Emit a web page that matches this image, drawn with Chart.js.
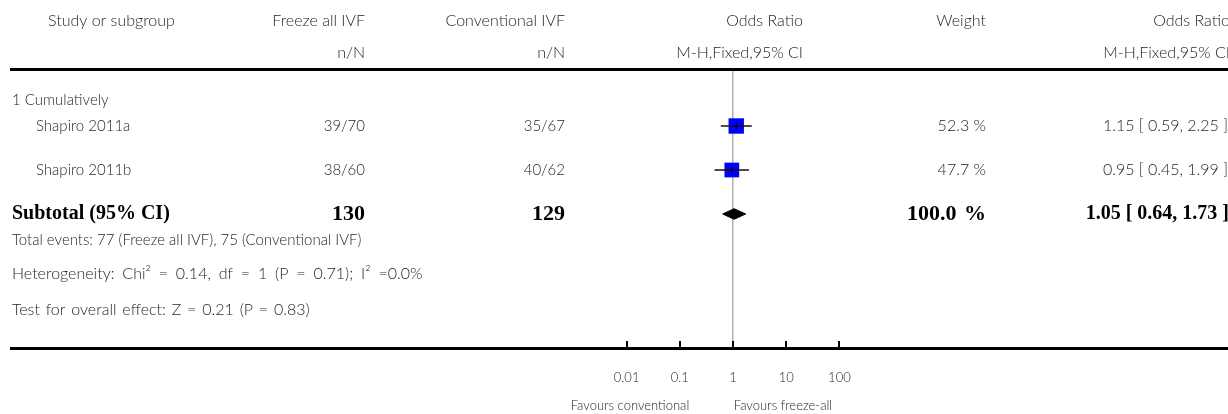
<!DOCTYPE html>
<html>
<head>
<meta charset="utf-8">
<script src="https://cdn.jsdelivr.net/npm/chart.js@4"></script>
<style>
  body { margin: 0; background: #fff; }
  canvas { display: block; }
</style>
</head>
<body>
<canvas id="forest" width="1228" height="414"></canvas>
<script>
// study level data
const studies = ['Shapiro 2011a', 'Shapiro 2011b'];
const freezeEvents = [39, 38];
const freezeTotal = [70, 60];
const convEvents = [35, 40];
const convTotal = [67, 62];
const oddsRatio = [1.15, 0.95];
const ciLow = [0.59, 0.45];
const ciHigh = [2.25, 1.99];
const weights = [52.3, 47.7];

// pooled result
const subtotalOR = 1.05;
const subtotalLow = 0.64;
const subtotalHigh = 1.73;
const subtotalWeight = 100.0;

const tickValues = [0.01, 0.1, 1, 10, 100];
const tickLabels = ['0.01', '0.1', '1', '10', '100'];

const footnotes = [
    'Total events: 77 (Freeze all IVF), 75 (Conventional IVF)',
    'Heterogeneity: Chi\u00b2 = 0.14, df = 1 (P = 0.71); I\u00b2 =0.0%',
    'Test for overall effect: Z = 0.21 (P = 0.83)'
];

const SANS = 'Lato, "Open Sans", sans-serif';
const SERIF = '"Liberation Serif", "DejaVu Serif", serif';
const GREY = '#1f1f1f';

function fmtCI(or, lo, hi) {
    return `${or.toFixed(2)} [ ${lo.toFixed(2)}, ${hi.toFixed(2)} ]`;
}

function text(ctx, str, x, y, align, font, color, wordSp) {
    ctx.font = font;
    ctx.fillStyle = color || GREY;
    ctx.textAlign = align;
    ctx.textBaseline = 'middle';
    ctx.wordSpacing = wordSp || '0px';
    ctx.fillText(str, x, y);
    ctx.wordSpacing = '0px';
}

const tablePlugin = {
    id: 'forestTable',
    afterDraw(chart) {
        const ctx = chart.ctx;
        const xs = chart.scales.x;
        const ys = chart.scales.y;
        const f = '300 16px ' + SANS;
        const fs = '300 15px ' + SANS;
        const b = 'bold 20px ' + SERIF;
        const bn = 'bold 22px ' + SERIF;
        ctx.save();

        // horizontal rules
        ctx.fillStyle = '#000';
        ctx.fillRect(10, 68, 1218, 3);
        ctx.fillRect(10, 347, 1218, 3);
        tickValues.forEach(v => {
            const px = Math.round(xs.getPixelForValue(v));
            ctx.fillRect(px - 1, 341, 2, 7);
        });

        // header
        text(ctx, 'Study or subgroup', 48, 21, 'left', f);
        text(ctx, 'Freeze all IVF', 365, 21, 'right', f);
        text(ctx, 'n/N', 365, 53, 'right', f);
        text(ctx, 'Conventional IVF', 565, 21, 'right', f);
        text(ctx, 'n/N', 565, 53, 'right', f);
        text(ctx, 'Odds Ratio', 803, 21, 'right', f);
        text(ctx, 'M-H,Fixed,95% CI', 803, 53, 'right', f);
        text(ctx, 'Weight', 986, 21, 'right', f);
        text(ctx, 'Odds Ratio', 1230, 21, 'right', f);
        text(ctx, 'M-H,Fixed,95% CI', 1230, 53, 'right', f);

        text(ctx, '1 Cumulatively', 12, 100, 'left', fs);

        studies.forEach((s, i) => {
            const py = ys.getPixelForValue(i + 1);
            text(ctx, s, 36, py, 'left', fs);
            text(ctx, `${freezeEvents[i]}/${freezeTotal[i]}`, 365, py, 'right', fs);
            text(ctx, `${convEvents[i]}/${convTotal[i]}`, 565, py, 'right', fs);
            text(ctx, `${weights[i].toFixed(1)} %`, 986, py, 'right', f);
            text(ctx, fmtCI(oddsRatio[i], ciLow[i], ciHigh[i]), 1228, py, 'right', f);
        });

        const sy = ys.getPixelForValue(studies.length + 1);
        const sumF = freezeTotal.reduce((a, c) => a + c, 0);
        const sumC = convTotal.reduce((a, c) => a + c, 0);
        text(ctx, 'Subtotal (95% CI)', 12, sy, 'left', b, '#000');
        text(ctx, String(sumF), 365, sy, 'right', bn, '#000');
        text(ctx, String(sumC), 565, sy, 'right', bn, '#000');
        text(ctx, `${subtotalWeight.toFixed(1)} %`, 986, sy, 'right', bn, '#000', '2px');
        text(ctx, fmtCI(subtotalOR, subtotalLow, subtotalHigh), 1229, sy, 'right', b, '#000');

        text(ctx, footnotes[0], 12, 240, 'left', fs);
        text(ctx, footnotes[1], 12, 274, 'left', f, GREY, '3.5px');
        text(ctx, footnotes[2], 12, 310, 'left', f, GREY, '1.5px');

        // axis captions
        text(ctx, 'Favours conventional', 630, 406, 'center', '300 13px ' + SANS);
        text(ctx, 'Favours freeze-all', 783, 406, 'center', '300 13px ' + SANS);

        ctx.restore();
    }
};

const ciSets = studies.map((s, i) => ({
    label: s,
    data: [{ x: ciLow[i], y: i + 1 }, { x: ciHigh[i], y: i + 1 }],
    showLine: true,
    borderColor: '#111',
    borderWidth: 1.5,
    pointRadius: 0,
    order: 1
}));

const sy = studies.length + 1;
const dh = 0.12; // half height of the diamond in row units

new Chart(document.getElementById('forest'), {
    type: 'scatter',
    data: {
        datasets: [
            ...ciSets,
            {
                label: 'estimate',
                data: oddsRatio.map((v, i) => ({ x: v, y: i + 1 })),
                pointStyle: 'rect',
                pointRadius: weights.map(w => 2.13 * Math.sqrt(w) / Math.SQRT2),
                pointBackgroundColor: '#0000ff',
                pointBorderWidth: 0,
                order: 2
            },
            {
                label: 'mark',
                data: oddsRatio.map((v, i) => ({ x: v, y: i + 1 })),
                pointStyle: 'line',
                rotation: 90,
                pointRadius: 3,
                pointBorderColor: '#000',
                pointBorderWidth: 1,
                order: 0
            },
            {
                label: 'subtotal',
                data: [
                    { x: subtotalLow, y: sy },
                    { x: subtotalOR, y: sy - dh },
                    { x: subtotalHigh, y: sy },
                    { x: subtotalOR, y: sy + dh },
                    { x: subtotalLow, y: sy }
                ],
                showLine: true,
                fill: 'shape',
                backgroundColor: '#000',
                borderColor: '#000',
                borderWidth: 1,
                pointRadius: 0,
                tension: 0,
                order: 0
            }
        ]
    },
    options: {
        responsive: false,
        animation: false,
        layout: { padding: { left: 600, right: 362, top: 70, bottom: 0 } },
        plugins: {
            legend: { display: false },
            tooltip: { enabled: false }
        },
        scales: {
            x: {
                type: 'logarithmic',
                min: Math.pow(10, -2.5),
                max: Math.pow(10, 2.5),
                border: { display: false },
                grid: {
                    drawTicks: false,
                    lineWidth: 1.5,
                    color: c => (c.tick && c.tick.value === 1 ? '#b0b0b0' : 'rgba(0,0,0,0)')
                },
                afterBuildTicks: scale => {
                    scale.ticks = tickValues.map(v => ({ value: v }));
                },
                afterFit: scale => { scale.height = 66; },
                ticks: {
                    autoSkip: false,
                    maxRotation: 0,
                    padding: 22,
                    color: GREY,
                    font: { family: SANS, size: 13, weight: 300 },
                    callback: (val, i) => tickLabels[i]
                }
            },
            y: {
                display: false,
                reverse: true,
                min: -0.2727,
                max: 6.0455
            }
        }
    },
    plugins: [tablePlugin]
});
</script>
</body>
</html>
